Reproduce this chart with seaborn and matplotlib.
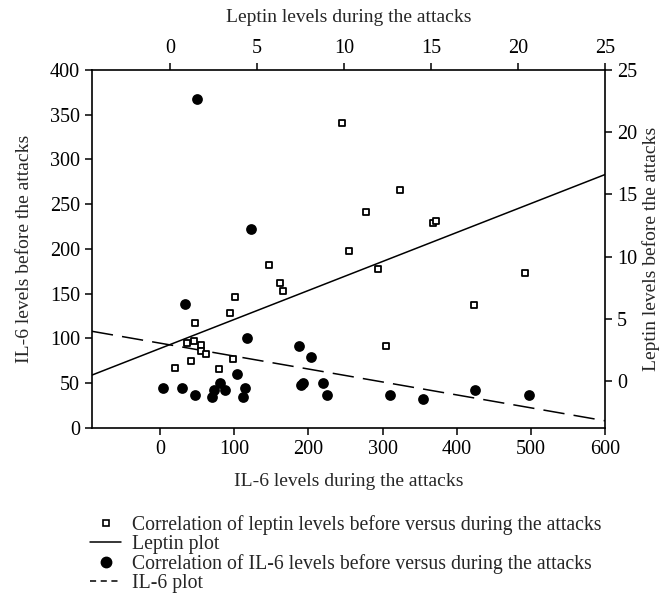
## Scatter of IL-6 and leptin levels before vs during attacks, with fitted lines on twin axes.

import numpy as np
import pandas as pd
import matplotlib.pyplot as plt
import seaborn as sns
from matplotlib.lines import Line2D

# IL-6 (bottom / left axes)
il6_during = [50, 123, 34, 117, 4, 29, 47, 70, 73, 81, 88, 104, 115, 112,
              187, 203, 190, 193, 219, 225, 310, 355, 425, 498]
il6_before = [368, 222, 139, 100, 45, 45, 37, 35, 42, 50, 42, 60, 45, 35,
              92, 79, 48, 50, 50, 37, 37, 32, 42, 37]

# Leptin (top / right axes)
leptin_during = [10.3, 5.7, 6.3, 6.5, 3.7, 3.45, 1.45, 1.35, 0.95, 1.75, 1.75, 2.05, 1.2,
                 0.25, 3.6, 2.8, 9.85, 13.2, 11.25, 15.1, 15.3, 11.95, 20.4, 17.45, 12.4]
leptin_before = [10.45, 9.35, 7.85, 7.25, 6.75, 5.5, 4.7, 3.2, 3.05, 2.95, 2.4, 2.15, 1.6,
                 1.1, 1.75, 0.95, 20.7, 15.35, 13.6, 12.7, 12.9, 9.0, 8.7, 6.1, 2.85]

# fitted lines: (intercept, slope)
il6_fit = (94.7, -0.1445)
leptin_fit = (2.95, 0.546)

il6_xlim = (-92, 600)
il6_ylim = (0, 400)
leptin_xlim = (-4.5, 25)
leptin_ylim = (-3.75, 25)

sns.set_style("ticks")
plt.rcParams['font.family'] = ['Liberation Serif', 'DejaVu Serif']
plt.rcParams['font.size'] = 14

fig = plt.figure(figsize=(6.66, 6.07), dpi=100)
rect = [0.138, 0.295, 0.7705, 0.5898]
ax = fig.add_axes(rect)
ax2 = fig.add_axes(rect, frameon=False)

# IL-6 data and fit
xs = np.array(il6_xlim, dtype=float)
sns.lineplot(x=xs, y=il6_fit[0] + il6_fit[1] * xs, ax=ax, color='black',
             linewidth=1.1, linestyle=(0, (14, 6)))
sns.scatterplot(x=il6_during, y=il6_before, ax=ax, color='black', s=60,
                edgecolor='black', linewidth=0, zorder=3)

# Leptin data and fit
xl = np.array(leptin_xlim, dtype=float)
sns.lineplot(x=xl, y=leptin_fit[0] + leptin_fit[1] * xl, ax=ax2, color='black',
             linewidth=1.1)
sns.scatterplot(x=leptin_during, y=leptin_before, ax=ax2, marker='s', s=22,
                color='white', edgecolor='black', linewidth=1.3, zorder=3)

ax.set_xlim(*il6_xlim)
ax.set_ylim(*il6_ylim)
ax.set_xticks(range(0, 601, 100))
ax.set_yticks(range(0, 401, 50))
ax.set_xlabel("IL-6 levels during the attacks", fontsize=14, labelpad=10)
ax.set_ylabel("IL-6 levels before the attacks", fontsize=14, labelpad=12)

ax2.set_xlim(*leptin_xlim)
ax2.set_ylim(*leptin_ylim)
ax2.set_xticks(range(0, 26, 5))
ax2.set_yticks(range(0, 26, 5))
ax2.xaxis.tick_top()
ax2.xaxis.set_label_position('top')
ax2.yaxis.tick_right()
ax2.yaxis.set_label_position('right')
ax2.set_xlabel("Leptin levels during the attacks", fontsize=14, labelpad=12)
ax2.set_ylabel("Leptin levels before the attacks", fontsize=14, labelpad=4)

for spine in ax.spines.values():
    spine.set_visible(True)
    spine.set_linewidth(1.2)
    spine.set_color('black')
for a in (ax, ax2):
    a.tick_params(direction='out', length=5, width=1.1, colors='black', labelsize=14.5)

handles = [
    Line2D([], [], marker='s', linestyle='none', markerfacecolor='white',
           markeredgecolor='black', markersize=4.5, markeredgewidth=1.2),
    Line2D([], [], color='black', linewidth=1.1),
    Line2D([], [], marker='o', linestyle='none', color='black', markersize=7.5),
    Line2D([], [], color='black', linewidth=1.1, linestyle=(0, (4, 3))),
]
labels = [
    "Correlation of leptin levels before versus during the attacks",
    "Leptin plot",
    "Correlation of IL-6 levels before versus during the attacks",
    "IL-6 plot",
]
fig.legend(handles, labels, loc='upper left', bbox_to_anchor=(0.135, 0.152),
           frameon=False, handlelength=1.6, handletextpad=0.55, labelspacing=0.0,
           borderpad=0, borderaxespad=0, fontsize=14.2)

fig.savefig('out.png', dpi=100)
